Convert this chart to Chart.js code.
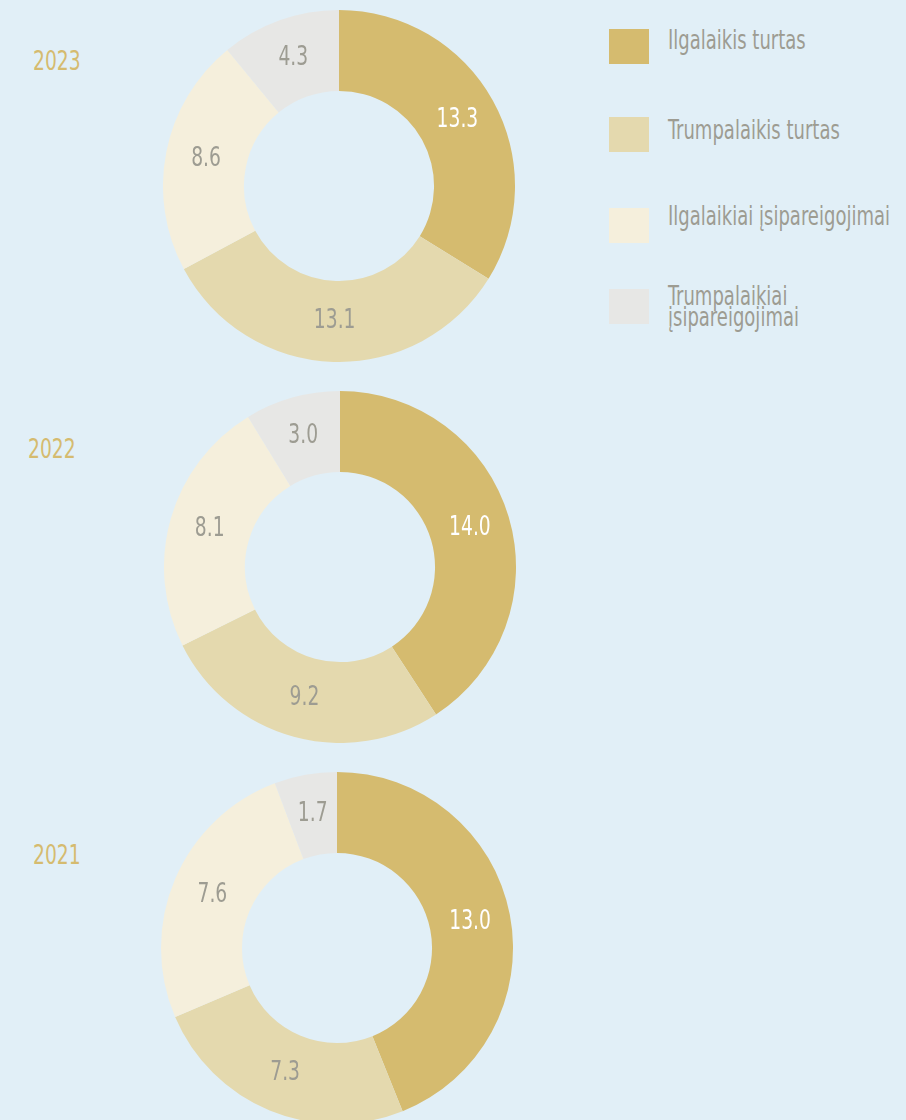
<!DOCTYPE html>
<html lang="lt">
<head>
<meta charset="utf-8">
<script src="https://cdn.jsdelivr.net/npm/chart.js@4.4.1/dist/chart.umd.min.js"></script>
<style>
    html, body { margin: 0; padding: 0; }
    body {
        width: 906px; height: 1120px; overflow: hidden; position: relative;
        background: #e1eff7;
        font-family: "DejaVu Sans Condensed", "Liberation Sans Narrow", sans-serif;
    }
    .year {
        position: absolute; color: #d5bb6f; font-size: 26px; line-height: 26px;
        transform: scaleX(0.8); transform-origin: left center;
    }
    .donut { position: absolute; width: 352px; height: 352px; }
    .legend-item { position: absolute; left: 609px; height: 35px; display: flex; align-items: center; }
    .legend-box { width: 40px; height: 35px; flex: none; }
    .legend-text {
        margin-left: 19px; color: #9d9c92; font-size: 26px; line-height: 21px;
        white-space: nowrap; transform: scaleX(0.77); transform-origin: left center;
    }
</style>
</head>
<body>

<div class="year" style="left:33px; top:48px;">2023</div>
<div class="year" style="left:28px; top:436px;">2022</div>
<div class="year" style="left:33px; top:842px;">2021</div>

<div class="donut" style="left:163px; top:10px;"><canvas id="chart2023"></canvas></div>
<div class="donut" style="left:164px; top:391px;"><canvas id="chart2022"></canvas></div>
<div class="donut" style="left:161px; top:772px;"><canvas id="chart2021"></canvas></div>

<div id="legend"></div>

<script>
// Data
const categories = ['Ilgalaikis turtas', 'Trumpalaikis turtas', 'Ilgalaikiai įsipareigojimai', 'Trumpalaikiai\nįsipareigojimai'];
const years = ['2023', '2022', '2021'];
const values2023 = [13.3, 13.1, 8.6, 4.3];
const values2022 = [14.0, 9.2, 8.1, 3.0];
const values2021 = [13.0, 7.3, 7.6, 1.7];

const sliceColors = ['#d5bb6f', '#e4d9ae', '#f5efdc', '#e7e7e5'];
const labelColors = ['#ffffff', '#9d9c92', '#9d9c92', '#9d9c92'];
const legendTops = [29, 117, 208, 289];
const legendTextShift = [-12, -8, -18, 0];

const activeCharts = {};

// draws the value in the middle of every slice (narrowed to mimic the condensed face)
const sliceLabels = {
    id: 'sliceLabels',
    afterDatasetsDraw(chart) {
        const ctx = chart.ctx;
        const meta = chart.getDatasetMeta(0);
        const data = chart.data.datasets[0].data;
        meta.data.forEach((arc, i) => {
            const pos = arc.tooltipPosition();
            ctx.save();
            ctx.translate(pos.x, pos.y);
            ctx.scale(0.8, 1);
            ctx.font = '26px "DejaVu Sans Condensed", "Liberation Sans Narrow", sans-serif';
            ctx.textAlign = 'center';
            ctx.textBaseline = 'middle';
            ctx.fillStyle = labelColors[i];
            ctx.fillText(data[i].toFixed(1), 0, 0);
            ctx.restore();
        });
    }
};

function createDonut(canvasId, values) {
    const canvas = document.getElementById(canvasId);
    if (!canvas) return;
    if (activeCharts[canvasId]) activeCharts[canvasId].destroy();

    activeCharts[canvasId] = new Chart(canvas.getContext('2d'), {
        type: 'doughnut',
        data: {
            labels: categories,
            datasets: [{
                data: values,
                backgroundColor: sliceColors,
                borderWidth: 0,
                hoverOffset: 0
            }]
        },
        options: {
            responsive: true,
            maintainAspectRatio: false,
            animation: false,
            cutout: '54%',
            layout: { padding: 0 },
            plugins: {
                legend: { display: false },
                tooltip: { enabled: false }
            }
        },
        plugins: [sliceLabels]
    });
}

createDonut('chart2023', values2023);
createDonut('chart2022', values2022);
createDonut('chart2021', values2021);

// legend
const legend = document.getElementById('legend');
categories.forEach((name, i) => {
    const item = document.createElement('div');
    item.className = 'legend-item';
    item.style.top = legendTops[i] + 'px';
    const box = document.createElement('div');
    box.className = 'legend-box';
    box.style.background = sliceColors[i];
    const text = document.createElement('div');
    text.className = 'legend-text';
    text.innerHTML = name.split('\n').join('<br>');
    text.style.marginTop = legendTextShift[i] + 'px';
    item.appendChild(box);
    item.appendChild(text);
    legend.appendChild(item);
});
</script>
</body>
</html>
